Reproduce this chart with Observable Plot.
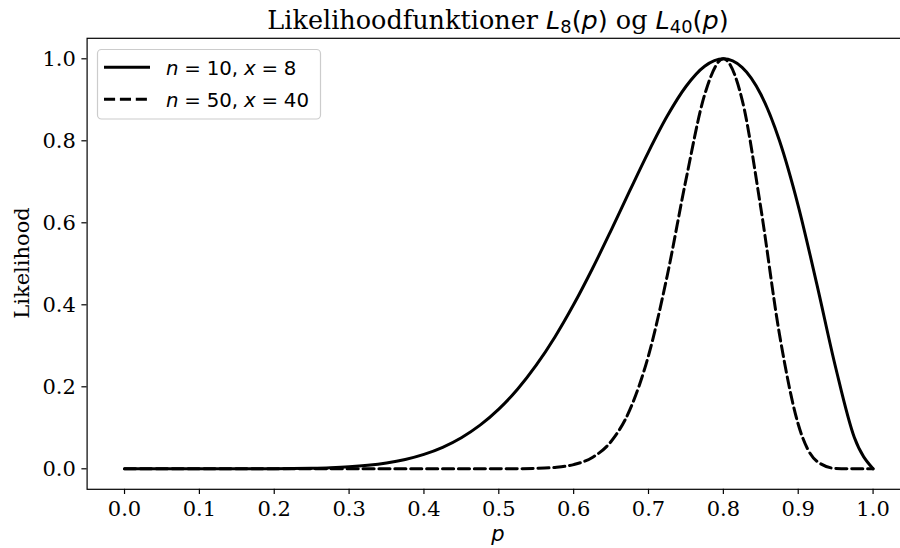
<!DOCTYPE html>
<html>
<head>
<meta charset="utf-8">
<script src="https://cdn.jsdelivr.net/npm/d3@7"></script>
<script src="https://cdn.jsdelivr.net/npm/@observablehq/plot@0.6"></script>
<style>
  html, body { margin: 0; padding: 0; background: #fff; }
  svg { display: block; }
</style>
</head>
<body>
<div id="chart"></div>
<script>
// p grid
const pValues = [0, 0.025, 0.05, 0.075, 0.1, 0.125, 0.15, 0.175, 0.2, 0.225, 0.25, 0.275, 0.3, 0.325, 0.35, 0.375, 0.4, 0.425, 0.45, 0.475, 0.5, 0.525, 0.55, 0.575, 0.6, 0.625, 0.65, 0.675, 0.7, 0.725, 0.75, 0.775, 0.8, 0.825, 0.85, 0.875, 0.9, 0.925, 0.95, 0.975, 1.0];
// n = 10, x = 8 (solid)
const likelihood8 = [0, 0, 0, 0, 0, 0, 0.00003, 0.00009, 0.00024, 0.00059, 0.00128, 0.00256, 0.0048, 0.0085, 0.0142, 0.0228, 0.0352, 0.0524, 0.0758, 0.1064, 0.1455, 0.1940, 0.2527, 0.3216, 0.4005, 0.4879, 0.5817, 0.6783, 0.7731, 0.8602, 0.9324, 0.9818, 1.0, 0.9793, 0.9136, 0.8000, 0.6415, 0.4492, 0.2471, 0.0761, 0];
// n = 50, x = 40 (dashed)
const likelihood40 = [0, 0, 0, 0, 0, 0, 0, 0, 0, 0, 0, 0, 0, 0, 0, 0, 0, 0, 0, 0.00001, 0.00007, 0.00028, 0.00103, 0.00344, 0.0103, 0.0277, 0.0666, 0.1436, 0.2762, 0.4710, 0.7047, 0.9124, 1.0, 0.9006, 0.6365, 0.3277, 0.1086, 0.0183, 0.0009, 0, 0];
const seriesLabels = ["n = 10, x = 8", "n = 50, x = 40"];
const xTicks = [0, 0.1, 0.2, 0.3, 0.4, 0.5, 0.6, 0.7, 0.8, 0.9, 1.0];
const yTicks = [0, 0.2, 0.4, 0.6, 0.8, 1.0];

const solid = pValues.map((p, i) => ({p, L: likelihood8[i]}));
const dashed = pValues.map((p, i) => ({p, L: likelihood40[i]}));

const fs = 21;
const dash = "11.1,4.8";
const svg = Plot.plot({
  width: 900,
  height: 548,
  marginLeft: 86.6,
  marginRight: -10,
  marginTop: 37.8,
  marginBottom: 59.2,
  style: {fontFamily: "DejaVu Serif", fontSize: fs + "px", color: "black", background: "white"},
  x: {domain: [-0.05, 1.05]},
  y: {domain: [-0.05, 1.05]},
  marks: [
    Plot.axisX(xTicks, {tickFormat: d3.format(".1f"), tickSize: 5.2, tickPadding: 7, strokeWidth: 1.2, label: null}),
    Plot.axisY(yTicks, {tickFormat: d3.format(".1f"), tickSize: 5.2, tickPadding: 6, strokeWidth: 1.2, label: null}),
    Plot.line(solid, {x: "p", y: "L", stroke: "black", strokeWidth: 3, curve: "monotone-x"}),
    Plot.line(dashed, {x: "p", y: "L", stroke: "black", strokeWidth: 3, strokeDasharray: dash, curve: "monotone-x"}),
    Plot.frame({stroke: "black", strokeWidth: 1.2})
  ]
});
document.getElementById("chart").appendChild(svg);

const s = d3.select(svg);
const sans = "DejaVu Sans", serif = "DejaVu Serif";

function part(el, txt, fam, opts = {}) {
  const sp = el.append("tspan").text(txt).attr("font-family", fam);
  if (opts.italic) sp.attr("font-style", "italic");
  if (opts.size) sp.attr("font-size", opts.size);
  if (opts.dy) sp.attr("dy", opts.dy);
  return sp;
}

// Title
const tf = 25.5;
const t = s.append("text").attr("x", 498).attr("y", 28.5).attr("text-anchor", "middle")
  .attr("font-size", tf).attr("fill", "black");
part(t, "Likelihoodfunktioner ", serif);
part(t, "L", sans, {italic: true});
part(t, "8", sans, {size: tf * 0.7, dy: 4.5});
part(t, "(", sans, {dy: -4.5});
part(t, "p", sans, {italic: true});
part(t, ")", sans);
part(t, " og ", serif);
part(t, "L", sans, {italic: true});
part(t, "40", sans, {size: tf * 0.7, dy: 4.5});
part(t, "(", sans, {dy: -4.5});
part(t, "p", sans, {italic: true});
part(t, ")", sans);

// Axis labels
s.append("text").attr("x", 498).attr("y", 541).attr("text-anchor", "middle")
  .attr("font-family", sans).attr("font-style", "italic").attr("font-size", fs).text("p");
s.append("text").attr("transform", "translate(29,263) rotate(-90)").attr("text-anchor", "middle")
  .attr("font-family", serif).attr("font-size", fs).text("Likelihood");

// Legend
const lfs = 19.8;
const lg = s.append("g");
lg.append("rect").attr("x", 97.5).attr("y", 49.5).attr("width", 223).attr("height", 69.5)
  .attr("rx", 4).attr("fill", "white").attr("fill-opacity", 0.8).attr("stroke", "#cccccc").attr("stroke-width", 1.2);
const rows = [{y: 67.3, base: 75.3, dash: null}, {y: 99.3, base: 106.5, dash: dash}];
rows.forEach((r, i) => {
  const ln = lg.append("line").attr("x1", 104).attr("x2", 150).attr("y1", r.y).attr("y2", r.y)
    .attr("stroke", "black").attr("stroke-width", 3);
  if (r.dash) ln.attr("stroke-dasharray", r.dash);
  const tx = lg.append("text").attr("x", 166).attr("y", r.base).attr("text-anchor", "start")
    .attr("font-size", lfs).attr("font-family", sans).attr("fill", "black").attr("word-spacing", -0.5);
  const [a, b] = seriesLabels[i].split(", ");
  const [an, av] = a.split(" = ");
  const [bn, bv] = b.split(" = ");
  part(tx, an, sans, {italic: true});
  part(tx, " = " + av + ", ", sans);
  part(tx, bn, sans, {italic: true});
  part(tx, " = " + bv, sans);
});
</script>
</body>
</html>
